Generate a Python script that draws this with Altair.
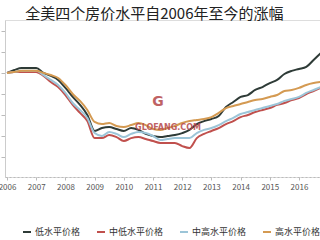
import altair as alt
import pandas as pd

quarters = [2006 + 0.25 * i for i in range(44)]

series_names = ["低水平价格", "中低水平价格", "中高水平价格", "高水平价格"]
colors = ["#2e3b37", "#c0504d", "#9cc5d8", "#d49a52"]

low = [100, 101.4, 102.4, 102.4, 102.4, 100, 98.6, 96.7, 92.9, 88.6,
       84.8, 80.0, 72.4, 73.8, 74.3, 73.3, 72.4, 73.8, 72.9, 71.0,
       70.0, 69.5, 70.0, 70.5, 71.4, 72.9, 75.7, 77.1, 78.1, 79.5,
       83.8, 86.2, 88.6, 89.5, 91.9, 93.3, 95.2, 96.7, 99.5, 101.0,
       101.9, 102.9, 106.2, 109.5]
mid_low = [100, 100.5, 100.5, 100.5, 100.5, 98.6, 95.7, 93.3, 89.5, 84.8,
           81.0, 77.1, 69.0, 69.0, 70.5, 69.5, 67.6, 69.0, 69.5, 68.6,
           67.6, 66.7, 66.7, 66.7, 65.2, 64.3, 69.0, 71.0, 72.4, 73.8,
           75.7, 77.1, 79.0, 80.0, 81.4, 82.4, 83.3, 84.8, 85.7, 87.1,
           88.1, 90.0, 91.4, 92.9]
mid_high = [100, 100.5, 101.0, 101.0, 101.0, 99.0, 96.7, 94.3, 90.5, 85.7,
            82.4, 78.6, 71.4, 70.0, 71.9, 71.0, 69.5, 71.0, 71.9, 71.4,
            70.0, 68.1, 68.6, 69.0, 69.0, 69.0, 71.4, 72.9, 73.8, 75.2,
            77.1, 78.6, 80.5, 81.4, 82.4, 83.3, 84.3, 85.2, 86.7, 87.6,
            88.6, 90.5, 91.9, 93.3]
high = [100, 100.5, 101.0, 101.0, 101.0, 100, 99.0, 97.6, 94.3, 90.0,
        86.7, 82.4, 76.7, 75.7, 76.2, 74.8, 74.3, 75.2, 76.2, 75.2,
        73.3, 72.9, 73.8, 74.8, 76.2, 77.1, 77.6, 78.1, 79.0, 81.0,
        83.3, 84.3, 85.2, 86.2, 87.1, 87.6, 88.6, 89.5, 91.4, 91.9,
        92.9, 94.3, 95.2, 95.7]

year_ticks = list(range(2006, 2017))
y_ticks = [60, 70, 80, 90, 100, 110, 120]

rows = []
for name, vals in zip(series_names, [low, mid_low, mid_high, high]):
    for t, v in zip(quarters, vals):
        rows.append({"t": t, "v": v, "s": name})
df = pd.DataFrame(rows)

FONT = "Noto Sans CJK SC"

lines = alt.Chart(df).mark_line(strokeWidth=2, clip=True, interpolate="monotone").encode(
    x=alt.X("t:Q", scale=alt.Scale(domain=[2005.93, 2016.72], nice=False, zero=False),
            axis=alt.Axis(values=year_ticks, format="d", title=None, grid=False,
                          labelFontSize=8, labelColor="#555", labelFont=FONT,
                          domainColor="#bbb", domainDash=[2, 2], tickColor="#bbb",
                          tickSize=3, labelPadding=3, labelFlush=False)),
    y=alt.Y("v:Q", scale=alt.Scale(domain=[50.5, 125.2], nice=False, zero=False),
            axis=alt.Axis(values=y_ticks, labels=False, title=None, grid=False,
                          domainColor="#ccc", tickColor="#bbb", tickSize=4)),
    color=alt.Color("s:N", scale=alt.Scale(domain=series_names, range=colors),
                    legend=alt.Legend(title=None, orient="none", direction="horizontal",
                                      legendX=17, legendY=207,
                                      symbolType="stroke", symbolSize=64,
                                      symbolStrokeWidth=2, labelFontSize=9,
                                      labelFont=FONT, labelColor="#333",
                                      columnPadding=12, labelOffset=3)),
    detail="s:N",
)

mark_text = alt.Chart(pd.DataFrame({"a": ["GLOFANG.COM"]})).mark_text(
    fontSize=8, fontWeight="bold", color="#b5474a", opacity=0.85, font="DejaVu Sans"
).encode(x=alt.value(163), y=alt.value(108), text="a:N")

logo = alt.Chart(pd.DataFrame({"a": ["G"]})).mark_text(
    fontSize=14, fontWeight="bold", color="#b5474a", opacity=0.85, font="DejaVu Sans"
).encode(x=alt.value(153), y=alt.value(82), text="a:N")

chart = alt.layer(lines, mark_text, logo).properties(
    width=315, height=157,
    title=alt.TitleParams("全美四个房价水平自2006年至今的涨幅", anchor="start", dx=27,
                          fontSize=15, fontWeight="normal", font=FONT, color="#222",
                          offset=-2),
    padding={"left": 5, "top": 20, "right": 0, "bottom": 63},
    autosize=alt.AutoSizeParams(type="none"),
).configure_view(stroke=None).configure(background="white")

chart.save("out.html", embed_options={"renderer": "svg", "actions": False})
